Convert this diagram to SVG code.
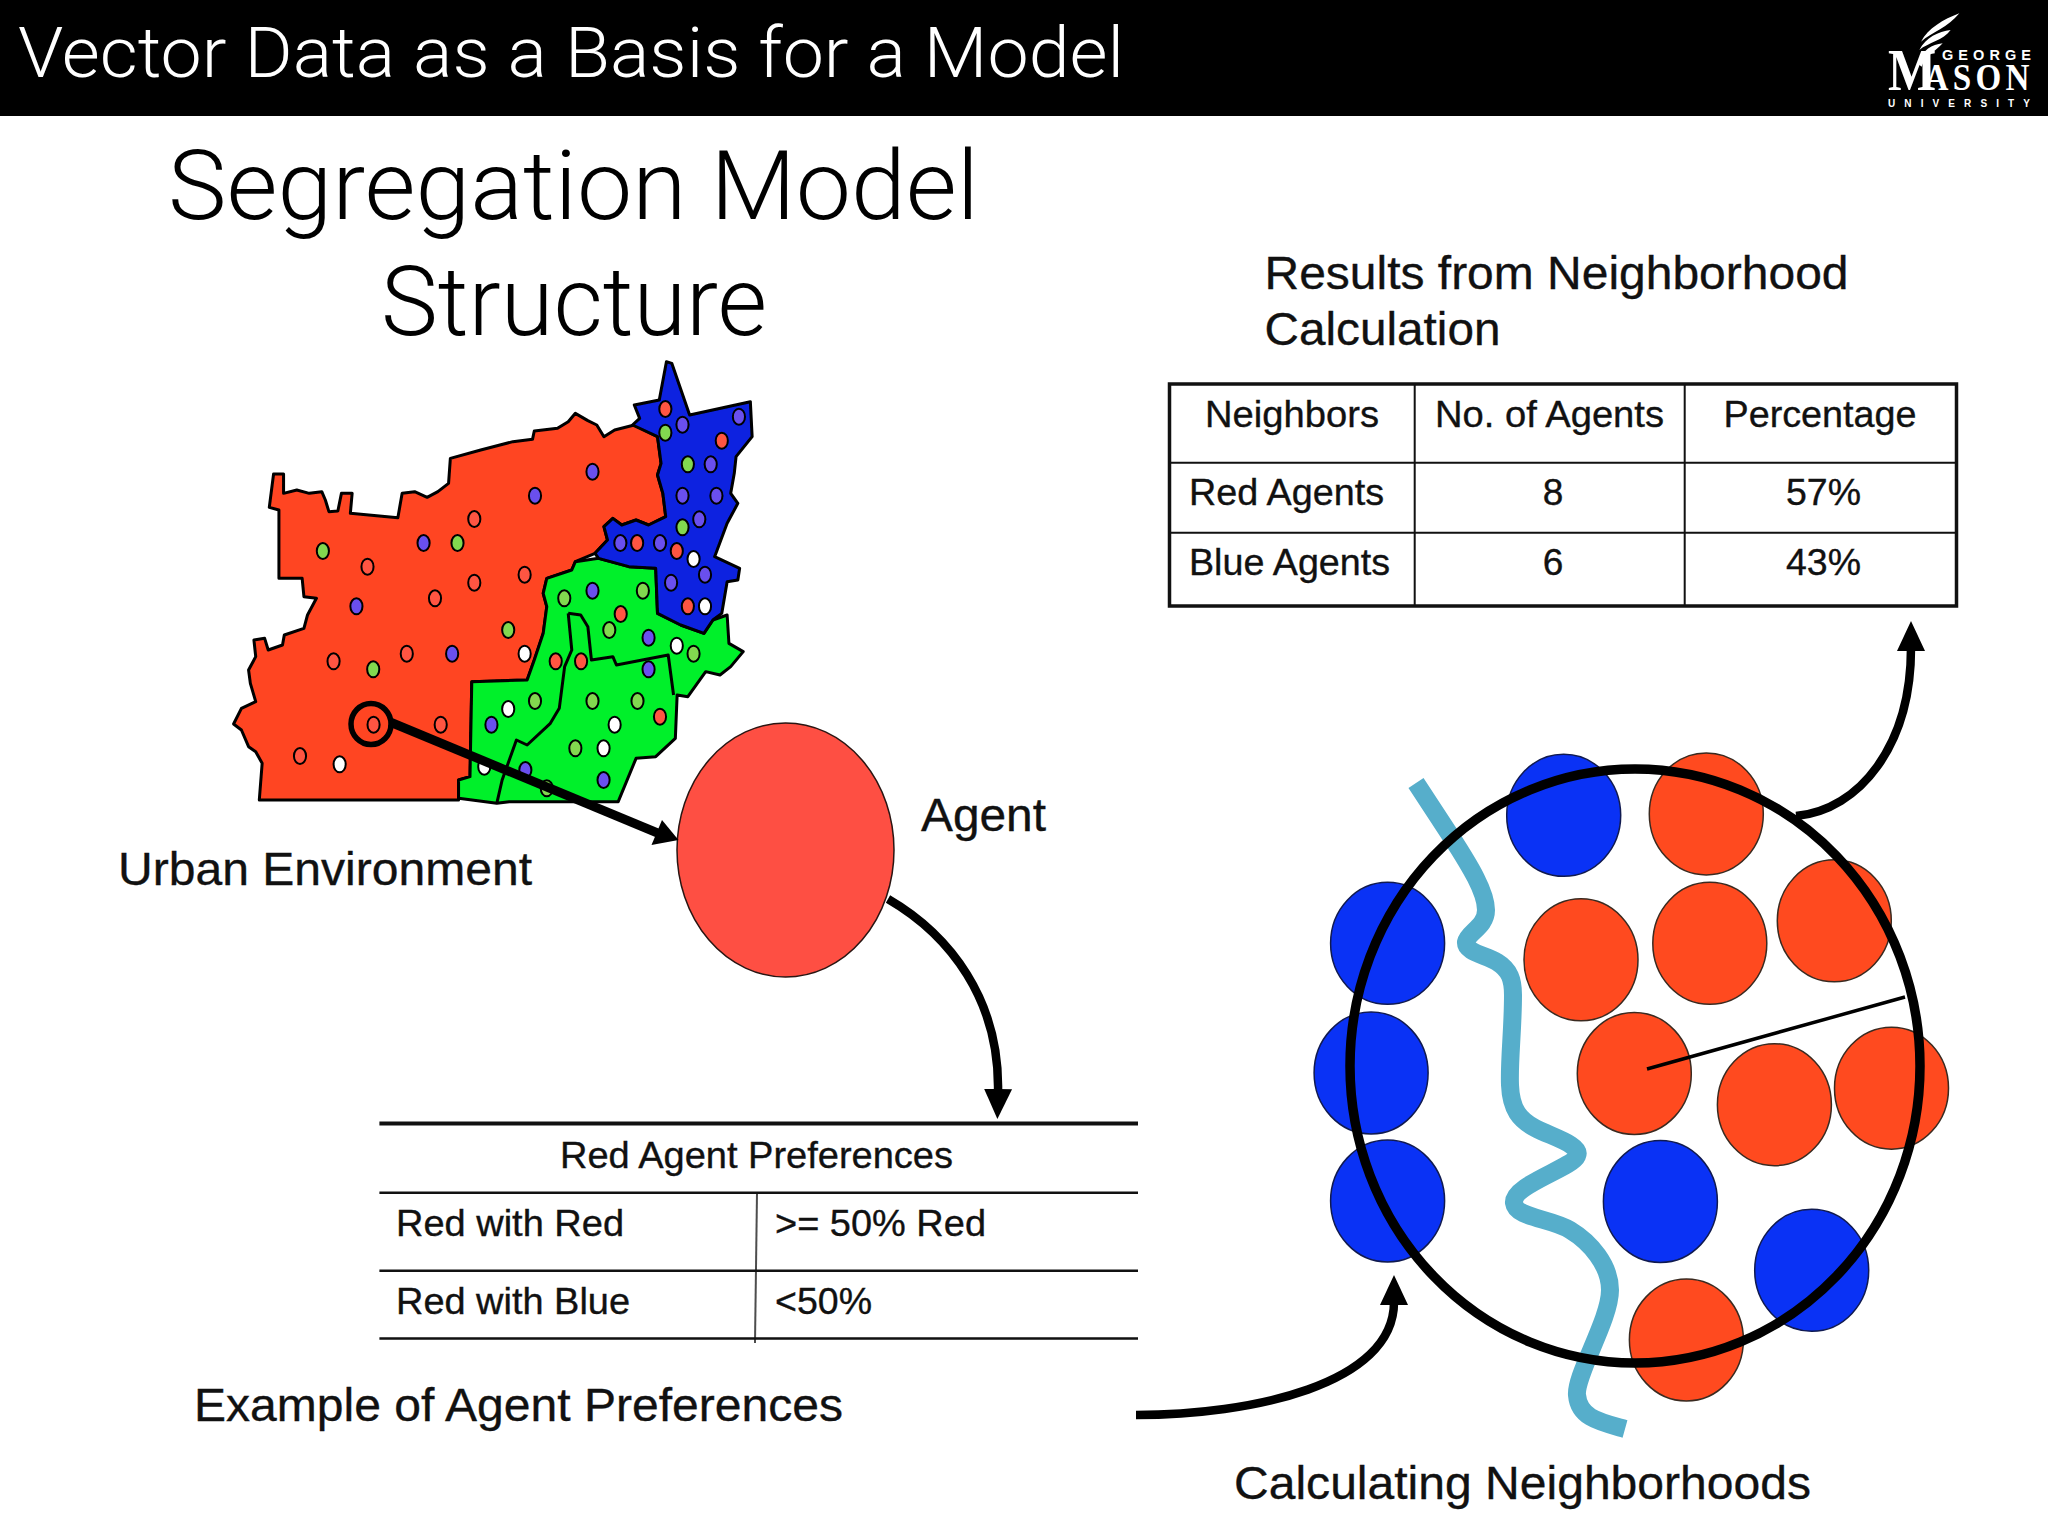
<svg xmlns="http://www.w3.org/2000/svg" width="2048" height="1536" viewBox="0 0 2048 1536">
<defs>
<marker id="head" markerUnits="userSpaceOnUse" markerWidth="32" markerHeight="32" viewBox="0 0 32 32" refX="3" refY="16" orient="auto"><path d="M0 2 L30 16 L0 30 Z" fill="#000"/></marker>
<filter id="soft" x="-2%" y="-2%" width="104%" height="104%"><feGaussianBlur stdDeviation="0.5"/></filter>
</defs>
<style>
text{font-family:"Liberation Sans",Arial,sans-serif;fill:#111;stroke:#111;stroke-width:.35px}
.light{font-family:Roboto,"Liberation Sans",sans-serif;font-weight:300;fill:#000;stroke:none}
.logo{stroke:none}
.cell{font-size:37px}
.cap{font-size:47px}
.map path,.map polyline{stroke:#000;stroke-width:3px;vector-effect:non-scaling-stroke;stroke-linejoin:round}
.map ellipse{stroke:#000;stroke-width:2px;vector-effect:non-scaling-stroke}
.r{fill:#ff5442}.p{fill:#6a50ee}.g{fill:#82d850}.w{fill:#fff}
.R{fill:#ff4a1f;stroke:#3a2a20;stroke-width:1.5}.B{fill:#0a32f5;stroke:#101a50;stroke-width:1.5}
.curve{fill:none;stroke:#000;stroke-width:8.500;stroke-linecap:butt}
.tline{stroke:#111;fill:none}
</style>
<rect width="2048" height="1536" fill="#fff"/>
<g id="header">
<rect width="2048" height="116" fill="#000"/>
<text class="light" x="18" y="77" font-size="71" style="fill:#fff" textLength="1106" lengthAdjust="spacingAndGlyphs">Vector Data as a Basis for a Model</text>
</g>
<g id="logo" fill="#fff">
<g transform="translate(1860 0) scale(.3333)">
<path d="M298 40 C250 58 205 85 183 125 C215 98 265 82 298 40Z"/>
<path d="M272 90 C235 95 198 112 178 150 C205 127 250 122 272 90Z"/>
<path d="M248 130 C215 135 190 148 172 190 L185 200 C195 170 225 155 248 130Z"/>
</g>
<text class="logo" style="fill:#fff;font-weight:bold" x="1942" y="60" font-size="14.500" textLength="89" lengthAdjust="spacing">GEORGE</text>
<text class="logo" transform="translate(1888 90) scale(.85 1)" style="fill:#fff;font-family:'Liberation Serif',serif;font-weight:bold"><tspan font-size="60">M</tspan><tspan x="43" font-size="39" letter-spacing="5">ASON</tspan></text>
<text class="logo" style="fill:#fff;font-weight:bold" x="1888" y="107" font-size="10" textLength="142" lengthAdjust="spacing">UNIVERSITY</text>
</g>
<g id="title">
<text class="light" x="168" y="219" font-size="97" textLength="811" lengthAdjust="spacingAndGlyphs">Segregation Model</text>
<text class="light" x="381" y="335" font-size="97" textLength="386" lengthAdjust="spacingAndGlyphs">Structure</text>
</g>
<g id="urban-map" class="map" transform="translate(220 350) scale(.35714 .33333)" filter="url(#soft)">
<path fill="#ff4422" d="M150 372 L178 372 L178 430 L215 420 L250 430 L285 425 L295 450 L305 485 L330 483 L340 430 L370 430 L365 490 L498 503 L510 430 L545 425 L580 442 L610 425 L640 400 L645 325 L730 300 L820 275 L875 268 L880 243 L945 235 L975 215 L995 190 L1030 212 L1055 225 L1075 260 L1105 240 L1160 225 L1225 260 L1235 340 L1225 375 L1240 430 L1248 500 L1200 525 L1165 510 L1125 525 L1100 505 L1075 530 L1085 570 L1050 610 L995 635 L985 660 L915 685 L905 730 L915 770 L905 850 L880 930 L860 990 L705 995 L700 1280 L668 1290 L668 1350 L160 1350 L110 1350 L118 1240 L100 1205 L80 1190 L60 1140 L38 1122 L60 1075 L100 1055 L85 1000 L80 960 L100 920 L95 870 L125 865 L135 900 L175 885 L180 855 L235 835 L245 795 L270 745 L235 740 L230 685 L165 685 L165 480 L138 472 Z"/>
<path fill="#00f02a" d="M995 635 L1060 625 L1145 650 L1220 655 L1225 790 L1290 825 L1355 850 L1380 810 L1420 795 L1425 880 L1465 905 L1430 950 L1400 975 L1360 965 L1310 1040 L1280 1035 L1275 1165 L1220 1220 L1165 1225 L1115 1355 L810 1355 L775 1360 L668 1345 L668 1290 L700 1280 L705 995 L860 990 L880 930 L905 850 L915 770 L905 730 L915 685 L985 660 Z"/>
<path fill="#0a22e0" d="M1250 35 L1265 40 L1315 195 L1485 155 L1490 260 L1445 320 L1440 370 L1430 430 L1450 460 L1420 520 L1385 620 L1455 655 L1450 690 L1420 695 L1405 790 L1380 810 L1355 850 L1290 825 L1225 790 L1220 655 L1145 650 L1060 625 L1050 610 L1085 570 L1075 530 L1100 505 L1125 525 L1165 510 L1200 525 L1248 500 L1240 430 L1225 375 L1235 340 L1225 260 L1155 225 L1175 205 L1160 165 L1230 150 Z"/>
<polyline fill="none" points="975,790 1010,795 1030,830 1040,930 1100,920 1110,945 1255,915 1270,1035"/>
<polyline fill="none" points="975,790 985,900 965,950 950,1075 925,1120 860,1185 830,1170 790,1290 775,1360"/>
<g>
<ellipse class="p" cx="1043" cy="365" rx="17" ry="24"/><ellipse class="p" cx="882" cy="437" rx="17" ry="24"/><ellipse class="r" cx="712" cy="507" rx="17" ry="24"/><ellipse class="p" cx="570" cy="579" rx="17" ry="24"/><ellipse class="g" cx="665" cy="579" rx="17" ry="24"/><ellipse class="g" cx="288" cy="603" rx="17" ry="24"/><ellipse class="r" cx="413" cy="650" rx="17" ry="24"/><ellipse class="r" cx="853" cy="674" rx="17" ry="24"/><ellipse class="r" cx="712" cy="698" rx="17" ry="24"/><ellipse class="r" cx="602" cy="745" rx="17" ry="24"/><ellipse class="p" cx="382" cy="769" rx="17" ry="24"/><ellipse class="g" cx="807" cy="840" rx="17" ry="24"/><ellipse class="w" cx="853" cy="911" rx="17" ry="24"/><ellipse class="r" cx="523" cy="911" rx="17" ry="24"/><ellipse class="p" cx="650" cy="911" rx="17" ry="24"/><ellipse class="r" cx="318" cy="934" rx="17" ry="24"/><ellipse class="g" cx="429" cy="958" rx="17" ry="24"/><ellipse class="r" cx="430" cy="1124" rx="17" ry="24"/><ellipse class="r" cx="618" cy="1124" rx="17" ry="24"/><ellipse class="r" cx="224" cy="1218" rx="17" ry="24"/><ellipse class="w" cx="335" cy="1243" rx="17" ry="24"/>
<ellipse class="r" cx="1247" cy="177" rx="17" ry="24"/><ellipse class="p" cx="1295" cy="224" rx="17" ry="24"/><ellipse class="p" cx="1453" cy="200" rx="17" ry="24"/><ellipse class="g" cx="1247" cy="248" rx="17" ry="24"/><ellipse class="r" cx="1405" cy="272" rx="17" ry="24"/><ellipse class="g" cx="1310" cy="343" rx="17" ry="24"/><ellipse class="p" cx="1374" cy="343" rx="17" ry="24"/><ellipse class="p" cx="1295" cy="437" rx="17" ry="24"/><ellipse class="p" cx="1390" cy="437" rx="17" ry="24"/><ellipse class="p" cx="1342" cy="508" rx="17" ry="24"/><ellipse class="g" cx="1295" cy="532" rx="17" ry="24"/><ellipse class="p" cx="1121" cy="579" rx="17" ry="24"/><ellipse class="r" cx="1168" cy="579" rx="17" ry="24"/><ellipse class="p" cx="1232" cy="579" rx="17" ry="24"/><ellipse class="r" cx="1279" cy="603" rx="17" ry="24"/><ellipse class="w" cx="1326" cy="627" rx="17" ry="24"/><ellipse class="p" cx="1358" cy="674" rx="17" ry="24"/><ellipse class="p" cx="1263" cy="698" rx="17" ry="24"/><ellipse class="r" cx="1310" cy="769" rx="17" ry="24"/><ellipse class="w" cx="1358" cy="769" rx="17" ry="24"/>
<ellipse class="p" cx="1043" cy="722" rx="17" ry="24"/><ellipse class="g" cx="1184" cy="722" rx="17" ry="24"/><ellipse class="g" cx="964" cy="745" rx="17" ry="24"/><ellipse class="r" cx="1122" cy="792" rx="17" ry="24"/><ellipse class="g" cx="1090" cy="840" rx="17" ry="24"/><ellipse class="p" cx="1200" cy="863" rx="17" ry="24"/><ellipse class="w" cx="1279" cy="887" rx="17" ry="24"/><ellipse class="g" cx="1326" cy="911" rx="17" ry="24"/><ellipse class="r" cx="940" cy="934" rx="17" ry="24"/><ellipse class="r" cx="1011" cy="934" rx="17" ry="24"/><ellipse class="p" cx="1200" cy="958" rx="17" ry="24"/><ellipse class="g" cx="882" cy="1053" rx="17" ry="24"/><ellipse class="g" cx="1043" cy="1053" rx="17" ry="24"/><ellipse class="g" cx="1169" cy="1053" rx="17" ry="24"/><ellipse class="w" cx="807" cy="1077" rx="17" ry="24"/><ellipse class="p" cx="760" cy="1124" rx="17" ry="24"/><ellipse class="w" cx="1105" cy="1124" rx="17" ry="24"/><ellipse class="r" cx="1232" cy="1100" rx="17" ry="24"/><ellipse class="g" cx="995" cy="1195" rx="17" ry="24"/><ellipse class="w" cx="1074" cy="1195" rx="17" ry="24"/><ellipse class="p" cx="1074" cy="1290" rx="17" ry="24"/><ellipse class="w" cx="740" cy="1250" rx="17" ry="24"/><ellipse class="p" cx="855" cy="1260" rx="17" ry="24"/><ellipse class="g" cx="915" cy="1315" rx="17" ry="24"/>
</g>
</g>
<g id="urban-label"><text class="cap" x="118" y="885" textLength="414" lengthAdjust="spacingAndGlyphs">Urban Environment</text></g>
<g id="agent">
<ellipse cx="785.500" cy="850" rx="108.500" ry="127" fill="#fe4f43" stroke="#2a1512" stroke-width="1.500"/>
<text class="cap" x="921" y="831" textLength="125" lengthAdjust="spacingAndGlyphs">Agent</text>
</g>
<g id="preferences">
<path class="tline" stroke-width="4" d="M379.400 1123.400H1138"/>
<path class="tline" stroke-width="2.500" d="M379.400 1192.700H1138M379.400 1270.700H1138M379.400 1338.500H1138"/>
<path class="tline" stroke-width="2" stroke-opacity=".75" d="M757 1193L755 1343"/>
<text class="cell" x="560" y="1168" textLength="393" lengthAdjust="spacingAndGlyphs">Red Agent Preferences</text>
<text class="cell" x="396" y="1236" textLength="228" lengthAdjust="spacingAndGlyphs">Red with Red</text>
<text class="cell" x="775" y="1236" textLength="211" lengthAdjust="spacingAndGlyphs">&gt;= 50% Red</text>
<text class="cell" x="396" y="1314" textLength="234" lengthAdjust="spacingAndGlyphs">Red with Blue</text>
<text class="cell" x="775" y="1314" textLength="97" lengthAdjust="spacingAndGlyphs">&lt;50%</text>
<text class="cap" x="194" y="1421" textLength="649" lengthAdjust="spacingAndGlyphs">Example of Agent Preferences</text>
</g>
<g id="results">
<text class="cap" x="1264.500" y="289" textLength="584" lengthAdjust="spacingAndGlyphs">Results from Neighborhood</text>
<text class="cap" x="1264.500" y="345" textLength="236" lengthAdjust="spacingAndGlyphs">Calculation</text>
<rect x="1169.500" y="384" width="787" height="222" fill="none" stroke="#111" stroke-width="3.500"/>
<path class="tline" stroke-width="2" d="M1169 462.800H1957M1169 532.700H1957M1414.700 384V606M1684.700 384V606"/>
<text class="cell" x="1205" y="427" textLength="174" lengthAdjust="spacingAndGlyphs">Neighbors</text>
<text class="cell" x="1435" y="427" textLength="229" lengthAdjust="spacingAndGlyphs">No. of Agents</text>
<text class="cell" x="1723.500" y="427" textLength="193" lengthAdjust="spacingAndGlyphs">Percentage</text>
<text class="cell" x="1189" y="505" textLength="195" lengthAdjust="spacingAndGlyphs">Red Agents</text>
<text class="cell" x="1553" y="505" text-anchor="middle">8</text>
<text class="cell" x="1786" y="505" textLength="75" lengthAdjust="spacingAndGlyphs">57%</text>
<text class="cell" x="1189" y="575" textLength="201" lengthAdjust="spacingAndGlyphs">Blue Agents</text>
<text class="cell" x="1553" y="575" text-anchor="middle">6</text>
<text class="cell" x="1786" y="575" textLength="75" lengthAdjust="spacingAndGlyphs">43%</text>
</g>
<g id="neighborhood">
<path d="M1416 783 L1452 838 C1470 866 1486 892 1486 910 C1486 927 1468 932 1466 942 C1465 952 1485 955 1497 962 C1510 970 1513 980 1513 995 C1513 1030 1509 1060 1510 1085 C1511 1110 1520 1120 1535 1128 C1552 1137 1582 1145 1577 1156 C1572 1168 1512 1185 1514 1203 C1516 1218 1550 1218 1570 1230 C1590 1242 1610 1265 1610 1290 C1610 1320 1575 1375 1577 1395 C1579 1418 1600 1422 1625 1429" fill="none" stroke="#56aecb" stroke-width="18"/>
<ellipse class="B" cx="1563.700" cy="815.300" rx="57" ry="61"/><ellipse class="B" cx="1387.600" cy="943.300" rx="57" ry="61"/><ellipse class="B" cx="1371.100" cy="1073" rx="57" ry="61"/><ellipse class="B" cx="1387.600" cy="1201" rx="57" ry="61"/><ellipse class="B" cx="1660.400" cy="1201.500" rx="57" ry="61"/><ellipse class="B" cx="1811.700" cy="1270.300" rx="57" ry="61"/>
<ellipse class="R" cx="1706.300" cy="813.900" rx="57" ry="61"/><ellipse class="R" cx="1581" cy="959.800" rx="57" ry="61"/><ellipse class="R" cx="1709.800" cy="943.300" rx="57" ry="61"/><ellipse class="R" cx="1834.300" cy="920.800" rx="57" ry="61"/><ellipse class="R" cx="1634.300" cy="1073.500" rx="57" ry="61"/><ellipse class="R" cx="1774.400" cy="1104.700" rx="57" ry="61"/><ellipse class="R" cx="1891.500" cy="1088.200" rx="57" ry="61"/><ellipse class="R" cx="1686.400" cy="1340" rx="57" ry="61"/>
<ellipse cx="1635" cy="1066" rx="285" ry="297" fill="none" stroke="#000" stroke-width="9.500"/>
<path d="M1647 1069 L1905 997" stroke="#000" stroke-width="3.500" fill="none"/>
<text class="cap" x="1234" y="1499" textLength="577" lengthAdjust="spacingAndGlyphs">Calculating Neighborhoods</text>
</g>
<g id="connectors">
<ellipse cx="371" cy="724" rx="20" ry="20.500" fill="none" stroke="#000" stroke-width="5.500"/>
<path d="M390 722 L660 834" fill="none" stroke="#000" stroke-width="9"/>
<path d="M678.500 840 L662 820 L651.500 845 Z" fill="#000"/>
<path class="curve" d="M888 899 C950 935 1000 1000 998 1092" marker-end="url(#head)"/>
<path class="curve" d="M1796 816 C1860 810 1911 745 1911 648" marker-end="url(#head)"/>
<path class="curve" d="M1136 1415 C1250 1415 1394 1385 1394 1302" marker-end="url(#head)"/>
</g>
</svg>
